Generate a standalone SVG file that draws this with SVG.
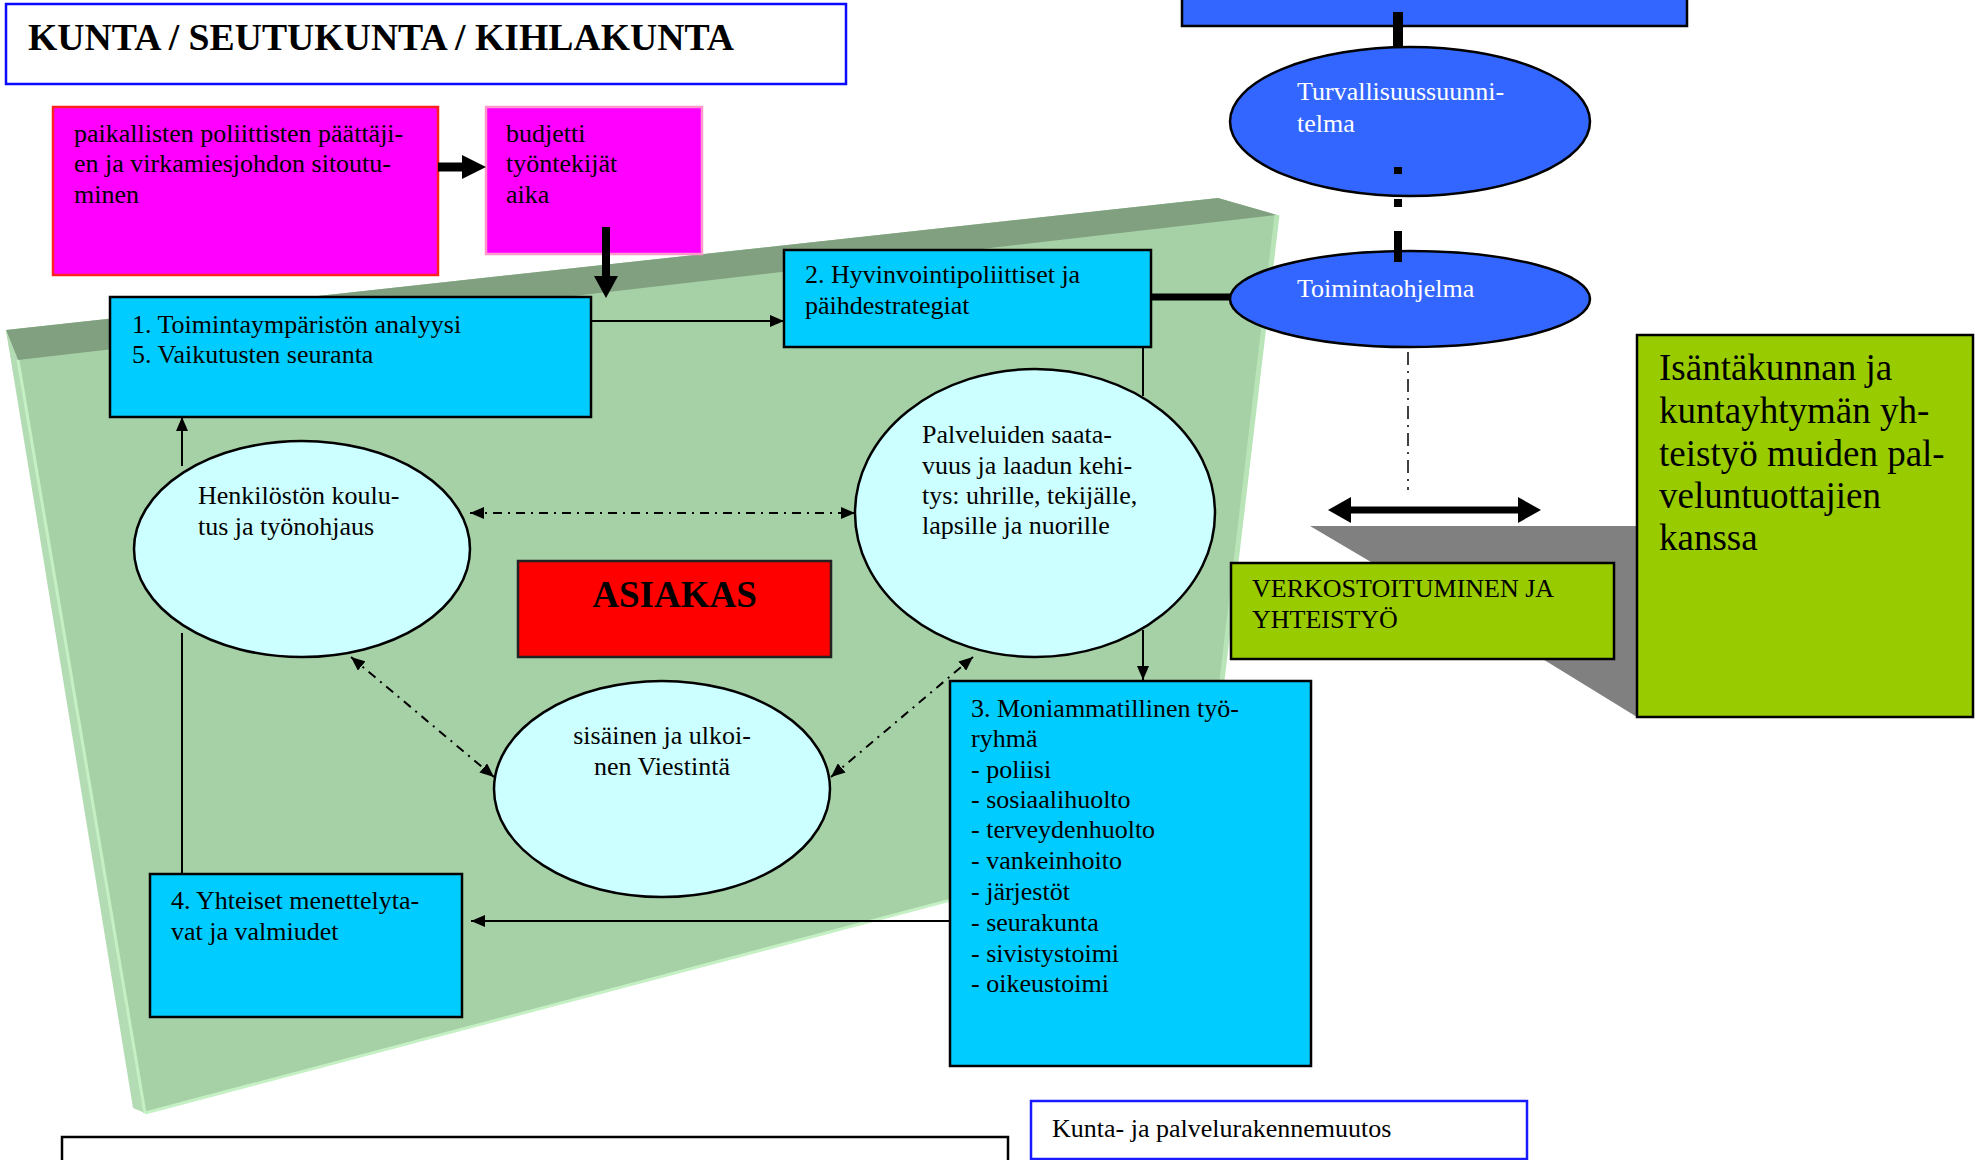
<svg xmlns="http://www.w3.org/2000/svg" width="1975" height="1160" viewBox="0 0 1975 1160">
<defs>
<style>
text{font-family:"Liberation Serif","Times New Roman",serif;font-size:26px;fill:#000}
.w{fill:#fff}
.big{font-size:37px}
.b{font-weight:bold;font-size:37px}
.cy{fill:#00ccff;stroke:#000;stroke-width:2.5}
.el{fill:#ccffff;stroke:#000;stroke-width:2.5}
.bl{fill:#3366ff;stroke:#000;stroke-width:2.5}
.gr{fill:#99cc00;stroke:#000;stroke-width:2.5}
.ln{fill:none;stroke:#000;stroke-width:2}
.dd{fill:none;stroke:#000;stroke-width:2;stroke-dasharray:9 6 2 6}
.thick{fill:none;stroke:#000}
</style>
<marker id="arr" viewBox="0 0 14 12" refX="14" refY="6" markerWidth="14" markerHeight="12" markerUnits="userSpaceOnUse" orient="auto-start-reverse">
<path d="M0,0 L14,6 L0,12 z" fill="#000"/>
</marker>
</defs>

<g id="title">
<rect x="6" y="4" width="840" height="80" fill="#fff" stroke="#0a0aff" stroke-width="2.5"/>
<text x="28" y="50" class="b" textLength="706" lengthAdjust="spacingAndGlyphs">KUNTA / SEUTUKUNTA / KIHLAKUNTA</text>
</g>

<g id="board">
<polygon points="6,330 1218,198 1277,215 1204,833 143,1113" fill="#a6d0a6"/>
<polygon points="6,330 1218,198 1277,215 18,360" fill="#80a080"/>
<polygon points="6,330 18,360 145,1113 133,1108" fill="#b4dcb4"/>
<line x1="18" y1="360" x2="145" y2="1113" stroke="#c4f0c4" stroke-width="3"/>
<line x1="145" y1="1113" x2="1204" y2="833" stroke="#c4f0c4" stroke-width="3"/>
<line x1="1277" y1="215" x2="1204" y2="833" stroke="#b8e4b8" stroke-width="5"/>
</g>

<g id="extrusion">
<polygon points="1310,526 1637,526 1637,717 1541,658 1371,562" fill="#808080"/>
</g>

<g id="n-sitoutuminen">
<rect x="53" y="107" width="385" height="168" fill="#ff00ff" stroke="#ff2020" stroke-width="2.5"/>
<text x="74" y="142">paikallisten poliittisten päättäji-</text>
<text x="74" y="172">en ja virkamiesjohdon sitoutu-</text>
<text x="74" y="203">minen</text>
</g>

<g id="n-resurssit">
<rect x="486" y="107" width="216" height="147" fill="#ff00ff" stroke="#ff99cc" stroke-width="2.5"/>
<text x="506" y="142">budjetti</text>
<text x="506" y="172">työntekijät</text>
<text x="506" y="203">aika</text>
</g>

<g id="n-box1">
<rect x="110" y="297" width="481" height="120" class="cy"/>
<text x="132" y="333">1. Toimintaympäristön analyysi</text>
<text x="132" y="363">5. Vaikutusten seuranta</text>
</g>

<g id="n-box2">
<rect x="784" y="250" width="367" height="97" class="cy"/>
<text x="805" y="283">2. Hyvinvointipoliittiset ja</text>
<text x="805" y="314">päihdestrategiat</text>
</g>

<g id="n-henkilosto">
<ellipse cx="302" cy="549" rx="168" ry="108" class="el"/>
<text x="198" y="504">Henkilöstön koulu-</text>
<text x="198" y="535">tus ja työnohjaus</text>
</g>

<g id="n-palvelut">
<ellipse cx="1035" cy="513" rx="180" ry="144" class="el"/>
<text x="922" y="443">Palveluiden saata-</text>
<text x="922" y="474">vuus ja laadun kehi-</text>
<text x="922" y="504">tys: uhrille, tekijälle,</text>
<text x="922" y="534">lapsille ja nuorille</text>
</g>

<g id="n-asiakas">
<rect x="518" y="561" width="313" height="96" fill="#ff0000" stroke="#222" stroke-width="2.5"/>
<text x="674.5" y="607" class="b" text-anchor="middle">ASIAKAS</text>
</g>

<g id="n-viestinta">
<ellipse cx="662" cy="789" rx="168" ry="108" class="el"/>
<text x="662" y="744" text-anchor="middle">sisäinen ja ulkoi-</text>
<text x="662" y="775" text-anchor="middle">nen Viestintä</text>
</g>

<g id="n-box4">
<rect x="150" y="874" width="312" height="143" class="cy"/>
<text x="171" y="909">4. Yhteiset menettelyta-</text>
<text x="171" y="940">vat ja valmiudet</text>
</g>

<g id="n-box3">
<rect x="950" y="681" width="361" height="385" class="cy"/>
<text x="971" y="717">3. Moniammatillinen työ-</text>
<text x="971" y="747">ryhmä</text>
<text x="971" y="778">- poliisi</text>
<text x="971" y="808">- sosiaalihuolto</text>
<text x="971" y="838">- terveydenhuolto</text>
<text x="971" y="869">- vankeinhoito</text>
<text x="971" y="900">- järjestöt</text>
<text x="971" y="931">- seurakunta</text>
<text x="971" y="962">- sivistystoimi</text>
<text x="971" y="992">- oikeustoimi</text>
</g>

<g id="n-toprect">
<rect x="1182" y="-10" width="505" height="36" class="bl"/>
</g>

<g id="n-turvallisuus">
<ellipse cx="1410" cy="121.5" rx="180" ry="74.5" class="bl"/>
<text x="1297" y="100" class="w">Turvallisuussuunni-</text>
<text x="1297" y="132" class="w">telma</text>
</g>

<g id="n-toimintaohjelma">
<ellipse cx="1410" cy="299" rx="180" ry="48" class="bl"/>
<text x="1297" y="297" class="w">Toimintaohjelma</text>
</g>

<g id="n-verkostoituminen">
<rect x="1231" y="563" width="383" height="96" class="gr"/>
<text x="1252" y="597">VERKOSTOITUMINEN JA</text>
<text x="1252" y="628">YHTEISTYÖ</text>
</g>

<g id="n-isantakunta">
<rect x="1637" y="335" width="336" height="382" class="gr"/>
<text x="1659" y="380" class="big">Isäntäkunnan ja</text>
<text x="1659" y="423" class="big">kuntayhtymän yh-</text>
<text x="1659" y="466" class="big">teistyö muiden pal-</text>
<text x="1659" y="508" class="big">veluntuottajien</text>
<text x="1659" y="550" class="big">kanssa</text>
</g>

<g id="n-bottomleft">
<rect x="62" y="1137" width="946" height="40" fill="#fff" stroke="#000" stroke-width="2.5"/>
</g>

<g id="n-kunta">
<rect x="1031" y="1101" width="496" height="58" fill="#fff" stroke="#1a1aff" stroke-width="2.5"/>
<text x="1052" y="1137">Kunta- ja palvelurakennemuutos</text>
</g>

<g id="connectors">
<path d="M591,321 H784" class="ln" marker-end="url(#arr)"/>
<path d="M1143,347 V396" class="ln"/>
<path d="M1143,630 V680" class="ln" marker-end="url(#arr)"/>
<path d="M950,921 H471" class="ln" marker-end="url(#arr)"/>
<path d="M182,874 V633" class="ln"/>
<path d="M182,466 V417" class="ln" marker-end="url(#arr)"/>
<path d="M470,513 H855" class="dd" marker-start="url(#arr)" marker-end="url(#arr)"/>
<path d="M351,657 L494,777" class="dd" marker-start="url(#arr)" marker-end="url(#arr)"/>
<path d="M831,777 L973,657" class="dd" marker-start="url(#arr)" marker-end="url(#arr)"/>
<path d="M438,167 H464" class="thick" stroke-width="9"/>
<polygon points="462,155 486,167 462,179" fill="#000"/>
<path d="M606,227 V278" class="thick" stroke-width="8"/>
<polygon points="594,276 618,276 606,298" fill="#000"/>
<path d="M1151,297 H1231" class="thick" stroke-width="7"/>
<path d="M1398,12 V47" class="thick" stroke-width="10"/>
<path d="M1398,262 V160" class="thick" stroke-width="8" stroke-dasharray="31 24 8 25 7 100"/>
<path d="M1408,352 V490" fill="none" stroke="#000" stroke-width="1.5" stroke-dasharray="13 6 2 6"/>
<path d="M1349,510 H1520" class="thick" stroke-width="7"/>
<polygon points="1328,510 1351,497 1351,523" fill="#000"/>
<polygon points="1541,510 1518,497 1518,523" fill="#000"/>
</g>
</svg>
